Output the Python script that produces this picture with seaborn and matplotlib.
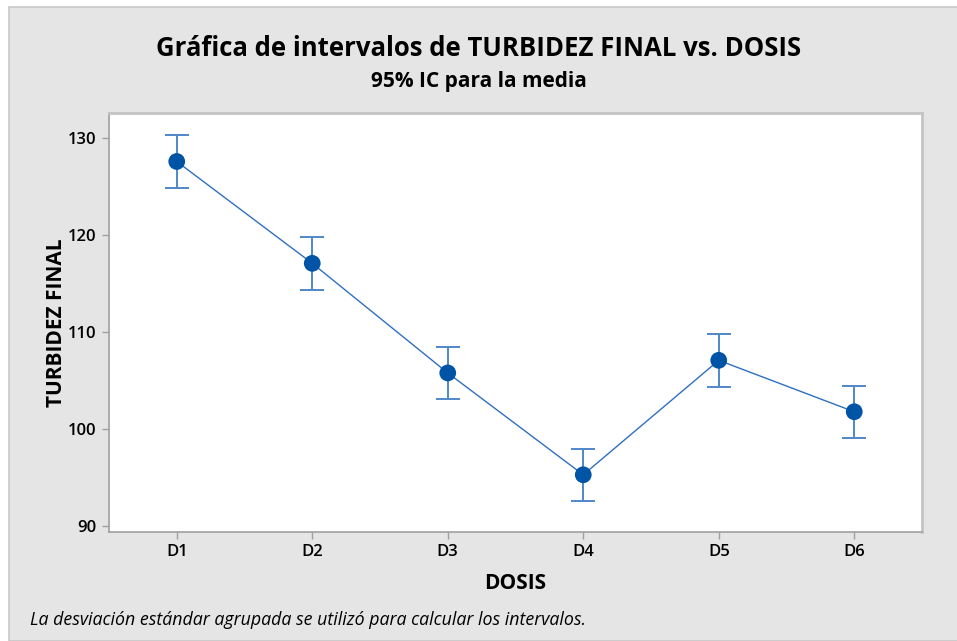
import matplotlib
matplotlib.use("Agg")
import matplotlib.pyplot as plt
import numpy as np
import pandas as pd
import seaborn as sns
from matplotlib.patches import Rectangle

dosis = ["D1", "D2", "D3", "D4", "D5", "D6"]
media = [127.6, 117.1, 105.8, 95.3, 107.1, 101.8]
ic_inf = [124.9, 114.3, 103.1, 92.6, 104.4, 99.1]
ic_sup = [130.3, 119.8, 108.5, 98.0, 109.8, 104.5]

df = pd.DataFrame({"DOSIS": dosis, "TURBIDEZ FINAL": media})

sns.set_style("white")
plt.rcParams["font.family"] = ["Open Sans", "DejaVu Sans"]
plt.rcParams["text.color"] = "black"
plt.rcParams["axes.labelcolor"] = "black"
plt.rcParams["xtick.color"] = "black"
plt.rcParams["ytick.color"] = "black"

fig = plt.figure(figsize=(9.57, 6.41), dpi=100, facecolor="white")
# grey panel behind the chart
fig.patches.append(Rectangle((9 / 957, 0), 1, 1 - 7 / 641, transform=fig.transFigure,
                             facecolor="#e5e5e5", edgecolor="#c8c8c8", lw=1.2, zorder=0))

ax = fig.add_axes([109 / 957, 1 - 532 / 641, (922 - 109) / 957, (532 - 113) / 641])
ax.set_zorder(2)
ax.set_facecolor("white")

err = [np.array(media) - np.array(ic_inf), np.array(ic_sup) - np.array(media)]
ax.errorbar(dosis, media, yerr=err, fmt="none", ecolor="#4f88c9", elinewidth=1.4,
            capsize=8.3, capthick=1.4, zorder=2)
sns.lineplot(data=df, x="DOSIS", y="TURBIDEZ FINAL", ax=ax, color="#2f6fbf", lw=1.0, zorder=3)
sns.scatterplot(data=df, x="DOSIS", y="TURBIDEZ FINAL", ax=ax, color="#0054a6", s=145,
                edgecolor="none", zorder=4)

ax.set_xlim(-0.5, 5.5)
ax.set_ylim(89.4, 132.6)
ax.set_yticks([90, 100, 110, 120, 130])

for s in ["left", "bottom"]:
    ax.spines[s].set_color("#a0a0a0")
    ax.spines[s].set_linewidth(1.2)
for s in ["top", "right"]:
    ax.spines[s].set_color("#c4c4c4")
    ax.spines[s].set_linewidth(2)
ax.tick_params(axis="both", direction="out", length=5, width=1, color="#a0a0a0",
               labelsize=12, pad=4, left=True, bottom=True)
for lab in ax.get_xticklabels() + ax.get_yticklabels():
    lab.set_fontweight("semibold")

ax.set_xlabel("DOSIS", fontsize=15, fontweight="bold", labelpad=9)
ax.set_ylabel("TURBIDEZ FINAL", fontsize=15, fontweight="bold", labelpad=1)

fig.text(0.5, 1 - 48 / 641, "Gráfica de intervalos de TURBIDEZ FINAL vs. DOSIS",
         ha="center", va="center", fontsize=18.5, fontweight="bold")
fig.text(0.5, 1 - 82 / 641, "95% IC para la media", ha="center", va="center",
         fontsize=15, fontweight="bold")
fig.text(30 / 957, 1 - 620 / 641,
         "La desviación estándar agrupada se utilizó para calcular los intervalos.",
         ha="left", va="center", fontsize=12.8, style="italic")

fig.savefig("out.png", dpi=100, facecolor=fig.get_facecolor())
